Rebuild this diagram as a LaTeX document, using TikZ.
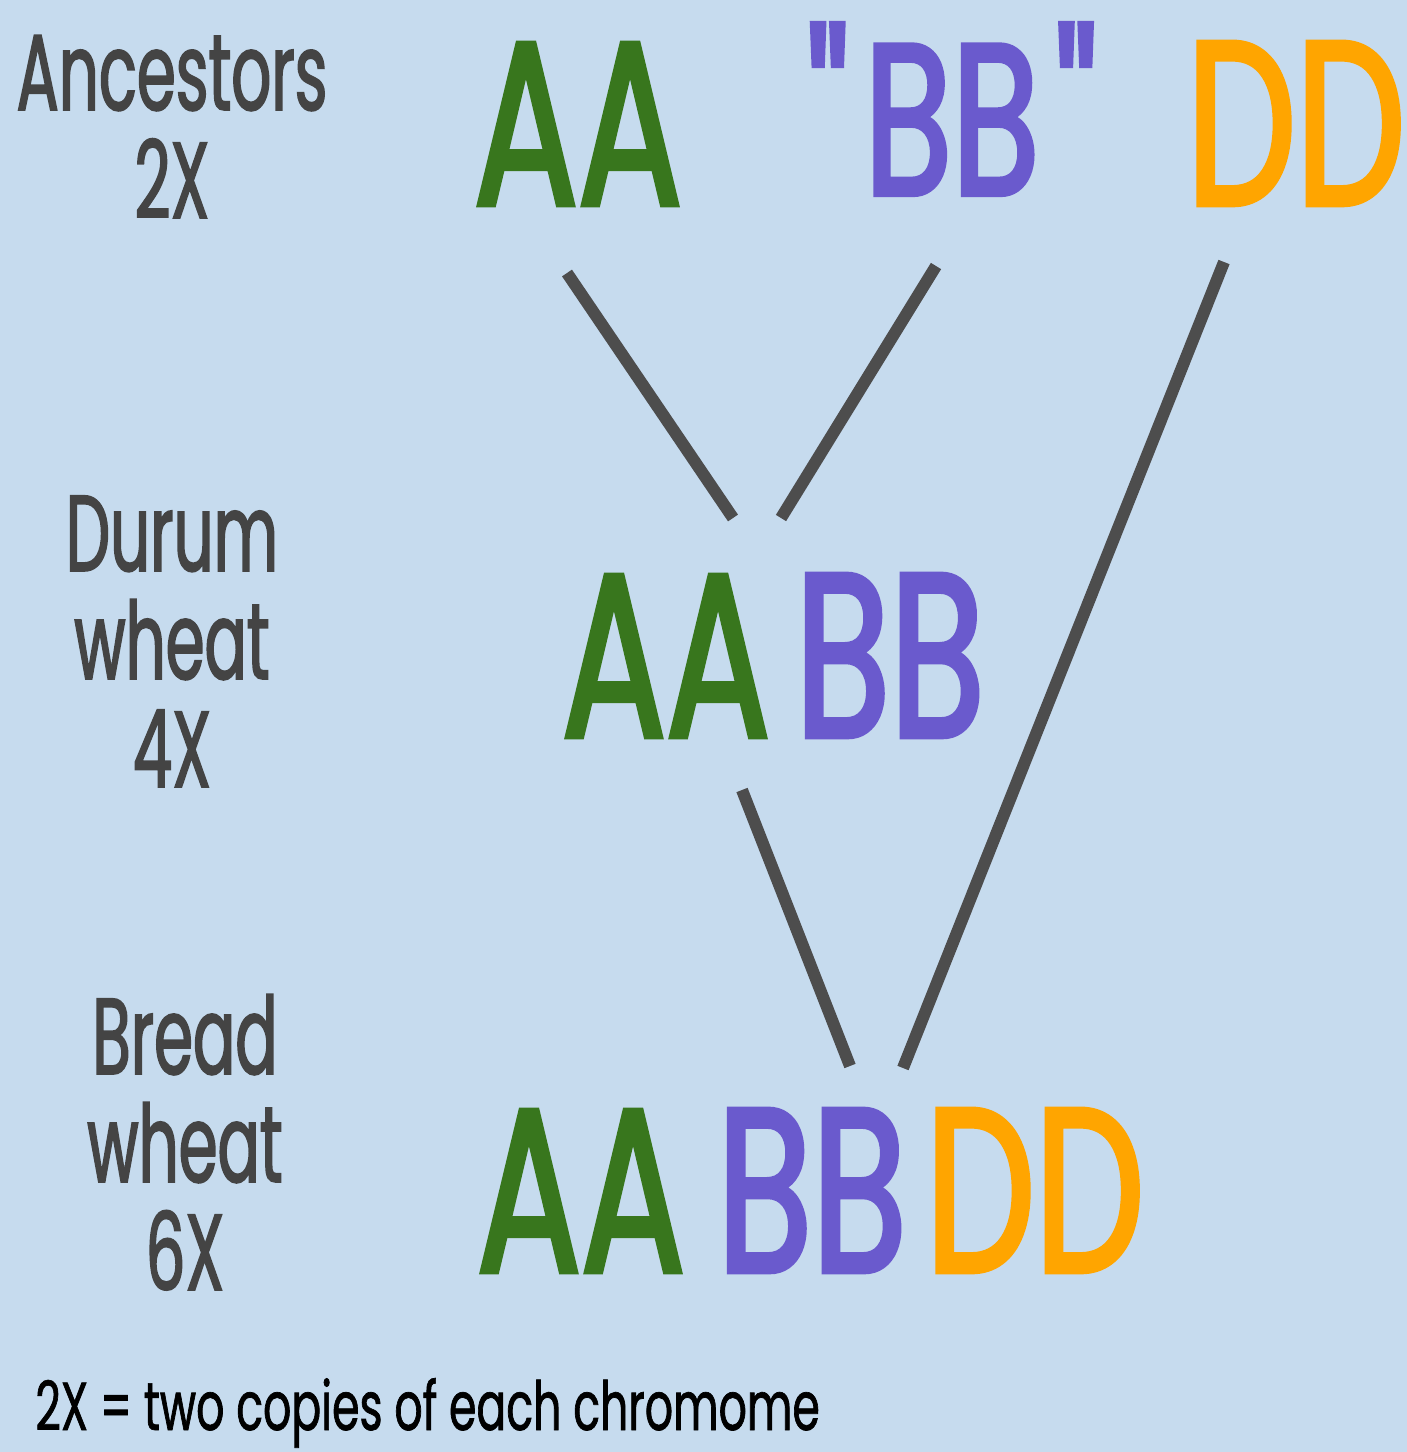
\documentclass[tikz,border=0pt]{standalone}
\usepackage{fontspec}
\setmainfont{Poppins}[FakeStretch=0.58, FakeBold=1.5]
\newfontfamily\genomefont{Poppins}[FakeStretch=0.66, FakeBold=2, Ligatures=NoCommon]
\newfontfamily\notefont{Poppins}[FakeStretch=0.65, FakeBold=1]
\usetikzlibrary{positioning}
\definecolor{bgblue}{HTML}{C6DBEE}
\definecolor{aagreen}{HTML}{38761D}
\definecolor{bbpurple}{HTML}{6A5ACD}
\definecolor{ddorange}{HTML}{FFA500}
\definecolor{labgray}{HTML}{444444}
\definecolor{linkgray}{HTML}{4D4D4D}

\begin{document}
\begin{tikzpicture}[x=0.5pt, y=-0.5pt,
    genome/.style={font=\genomefont\fontsize{117}{117}\selectfont, inner sep=0pt, anchor=base},
    lab/.style={text=labgray, font=\fontsize{54}{54}\selectfont, align=center, inner sep=0pt, anchor=base},
    link/.style={draw=linkgray, line width=6pt}]
    \fill[bgblue] (0,0) rectangle (1407,1452);
    \useasboundingbox (0,0) rectangle (1407,1452);
    % left column
    \node[lab] (ancestors) at (172,218) {Ancestors\\2X};
    \node[lab] (durum) at (172,787) {Durum\\wheat\\4X};
    \node[lab] (bread) at (185,1290) {Bread\\wheat\\6X};
    % genomes
    \node[genome, text=aagreen] (aaTop) at (578,205) {AA};
    \node[genome, text=bbpurple, font=\genomefont\fontsize{108}{108}\selectfont] (bbTop) at (952,195) {\symbol{34}\kern8pt BB\kern8pt\symbol{34}};
    \node[genome, text=ddorange] (ddTop) at (1296,205) {DD};
    \node[genome, text=aagreen] (aaMid) at (666,737) {AA};
    \node[genome, text=bbpurple] (bbMid) at (890,737) {BB};
    \node[genome, text=aagreen] (aaBot) at (581,1272) {AA};
    \node[genome, text=bbpurple] (bbBot) at (812,1272) {BB};
    \node[genome, text=ddorange] (ddBot) at (1035,1272) {DD};
    % line ends
    \coordinate (aaTopFoot) at (567,273);
    \coordinate (bbTopFoot) at (936,266);
    \coordinate (ddTopFoot) at (1224,262);
    \coordinate (midLeft) at (733,518);
    \coordinate (midRight) at (781,518);
    \coordinate (midFoot) at (742,790);
    \coordinate (botLeft) at (850,1066);
    \coordinate (botRight) at (903,1068);
    \draw[link] (aaTopFoot) -- (midLeft);
    \draw[link] (bbTopFoot) -- (midRight);
    \draw[link] (ddTopFoot) -- (botRight);
    \draw[link] (midFoot) -- (botLeft);
    % note
    \node[font=\notefont\fontsize{34}{34}\selectfont, inner sep=0pt, anchor=base west] (note) at (35,1430) {2X = two copies of each chromome};
\end{tikzpicture}
\end{document}
